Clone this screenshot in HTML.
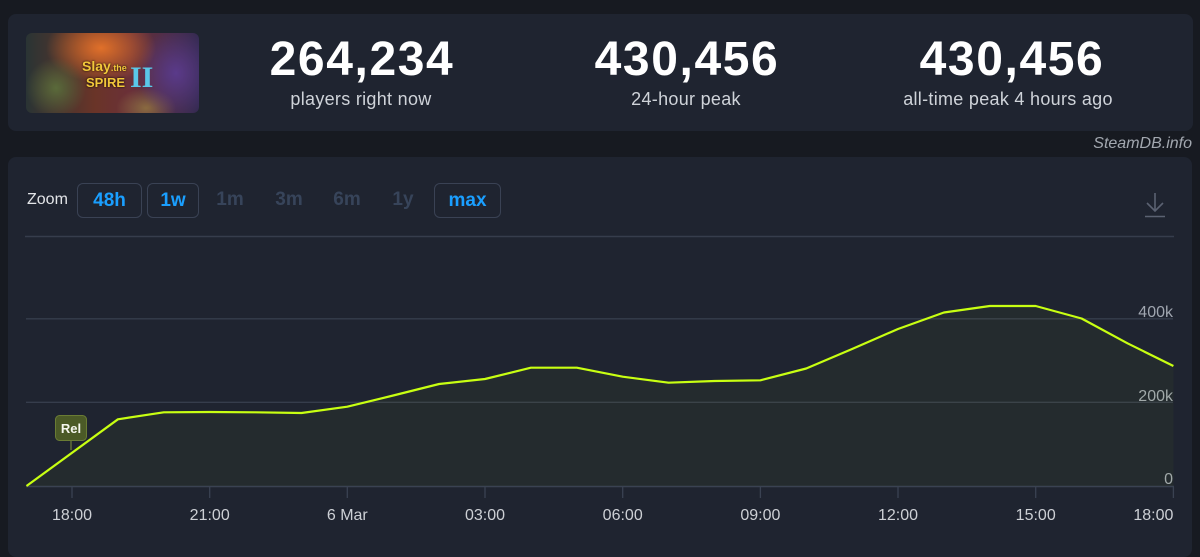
<!DOCTYPE html>
<html><head><meta charset="utf-8"><style>
html,body{margin:0;padding:0;width:1200px;height:537px;overflow:hidden;background:#171a21;font-family:"Liberation Sans",sans-serif;}
.card{position:absolute;background:#1f2430;border-radius:8px;}
.num{position:absolute;width:300px;text-align:center;color:#fff;font-weight:bold;font-size:48px;line-height:48px;letter-spacing:1.6px;top:36px;}
.lbl{position:absolute;width:300px;text-align:center;color:#cfd3d9;font-size:18px;line-height:18px;letter-spacing:0.3px;top:90px;}
.btn{position:absolute;top:183px;height:33px;border:1px solid #3a4254;border-radius:6px;color:#1a9fff;font-weight:bold;font-size:19px;line-height:33px;text-align:center;}
.dim{position:absolute;top:189px;color:#37445a;font-weight:bold;font-size:19px;line-height:22px;text-align:center;width:40px;}
</style></head><body>
<div class="card" style="left:8px;top:14px;width:1185px;height:117px;"></div>
<div style="position:absolute;left:26px;top:33px;width:173px;height:80px;border-radius:6px;overflow:hidden;background:
radial-gradient(ellipse 30px 30px at 30px 55px,#5a6a3a 0%,rgba(60,70,40,0) 100%),
radial-gradient(ellipse 55px 35px at 75px 15px,#e0702a 0%,rgba(200,80,30,0) 100%),
radial-gradient(ellipse 40px 45px at 150px 40px,#5a3a8a 0%,rgba(80,40,120,0) 100%),
radial-gradient(ellipse 30px 20px at 120px 75px,#8a6a40 0%,rgba(100,70,40,0) 100%),
linear-gradient(90deg,#2a3434 0%,#6a3428 40%,#6a3038 60%,#342a52 100%);">
<div style="position:absolute;left:56px;top:26px;color:#f2c83a;font-weight:bold;font-size:14px;line-height:14px;text-shadow:0 0 2px #000;">Slay<span style="font-size:9px">.the</span></div>
<div style="position:absolute;left:60px;top:43px;color:#f2c83a;font-weight:bold;font-size:13px;line-height:13px;text-shadow:0 0 2px #000;">SPIRE</div>
<div style="position:absolute;left:104px;top:31px;color:#5ac8e8;font-weight:bold;font-size:30px;line-height:28px;font-family:'Liberation Serif',serif;">II</div>
</div>
<div class="num" style="left:212px;">264,234</div>
<div class="lbl" style="left:211px;">players right now</div>
<div class="num" style="left:537px;">430,456</div>
<div class="lbl" style="left:536px;">24-hour peak</div>
<div class="num" style="left:862px;">430,456</div>
<div class="lbl" style="left:858px;">all-time peak 4 hours ago</div>
<div style="position:absolute;right:8px;top:135px;color:#a3a8b0;font-style:italic;font-size:16px;line-height:18px;">SteamDB.info</div>

<div class="card" style="left:8px;top:157px;width:1184px;height:400px;"></div>
<div style="position:absolute;left:27px;top:191px;color:#e3e5e8;font-size:16px;line-height:18px;">Zoom</div>
<div class="btn" style="left:77px;width:63px;">48h</div>
<div class="btn" style="left:147px;width:50px;">1w</div>
<div class="dim" style="left:210px;">1m</div>
<div class="dim" style="left:269px;">3m</div>
<div class="dim" style="left:327px;">6m</div>
<div class="dim" style="left:383px;">1y</div>
<div class="btn" style="left:434px;width:65px;">max</div>

<svg width="1200" height="537" style="position:absolute;left:0;top:0;" xmlns="http://www.w3.org/2000/svg">
<line x1="25" y1="236.5" x2="1174" y2="236.5" stroke="#363d4c" stroke-width="1.5"/>
<g stroke="#5b6272" stroke-width="1.6" fill="none">
<line x1="1155" y1="193" x2="1155" y2="211"/>
<polyline points="1147,203 1155,211 1163,203"/>
<line x1="1145" y1="216.5" x2="1165" y2="216.5"/>
</g>
<g stroke="#363d4c" stroke-width="1.3">
<line x1="26" y1="318.8" x2="1173" y2="318.8"/>
<line x1="26" y1="402.3" x2="1173" y2="402.3"/>
</g>
<line x1="26" y1="486.5" x2="1174" y2="486.5" stroke="#3a4252" stroke-width="1.5"/>
<g stroke="#3a4252" stroke-width="1.3">
<line x1="72" y1="487" x2="72" y2="498"/>
<line x1="209.7" y1="487" x2="209.7" y2="498"/>
<line x1="347.3" y1="487" x2="347.3" y2="498"/>
<line x1="485" y1="487" x2="485" y2="498"/>
<line x1="622.7" y1="487" x2="622.7" y2="498"/>
<line x1="760.4" y1="487" x2="760.4" y2="498"/>
<line x1="898" y1="487" x2="898" y2="498"/>
<line x1="1035.7" y1="487" x2="1035.7" y2="498"/>
<line x1="1173.4" y1="487" x2="1173.4" y2="498"/>
</g>
<g font-family="Liberation Sans, sans-serif" font-size="16" fill="#cdd0d5" text-anchor="middle">
<text x="72" y="520">18:00</text>
<text x="209.7" y="520">21:00</text>
<text x="347.3" y="520">6 Mar</text>
<text x="485" y="520">03:00</text>
<text x="622.7" y="520">06:00</text>
<text x="760.4" y="520">09:00</text>
<text x="898" y="520">12:00</text>
<text x="1035.7" y="520">15:00</text>
<text x="1173.4" y="520" text-anchor="end">18:00</text>
</g>
<g font-family="Liberation Sans, sans-serif" font-size="16" fill="#a0a6b0" text-anchor="end">
<text x="1173" y="317">400k</text>
<text x="1173" y="401">200k</text>
<text x="1173" y="484">0</text>
</g>
<polygon fill="rgba(190,255,0,0.035)" points="26.5,486 117.9,419.3 163.8,412.3 209.7,412 255.6,412.3 301.5,413 347.3,406.7 393.2,395.5 439.1,384 485,379 530.9,367.7 576.8,367.7 622.7,376.7 668.6,382.7 714.5,381 760.4,380.3 806.2,368.5 852.1,349 898,329 943.9,312.5 989.8,306 1035.7,306 1081.6,318.5 1127.5,343.3 1173.4,366 1173.4,486"/>
<polyline fill="none" stroke="#c8ff12" stroke-width="2.2" stroke-linejoin="round" points="26.5,486 117.9,419.3 163.8,412.3 209.7,412 255.6,412.3 301.5,413 347.3,406.7 393.2,395.5 439.1,384 485,379 530.9,367.7 576.8,367.7 622.7,376.7 668.6,382.7 714.5,381 760.4,380.3 806.2,368.5 852.1,349 898,329 943.9,312.5 989.8,306 1035.7,306 1081.6,318.5 1127.5,343.3 1173.4,366"/>
<line x1="71" y1="440" x2="71" y2="450" stroke="#6b7a3a" stroke-width="1.3"/>
<rect x="55.5" y="415.5" width="31" height="25" rx="4" fill="#4b5a27" stroke="#6a7c34" stroke-width="1"/>
<text x="71" y="433" font-family="Liberation Sans, sans-serif" font-size="13" font-weight="bold" fill="#f4f6ee" text-anchor="middle">Rel</text>
</svg>
</body></html>
